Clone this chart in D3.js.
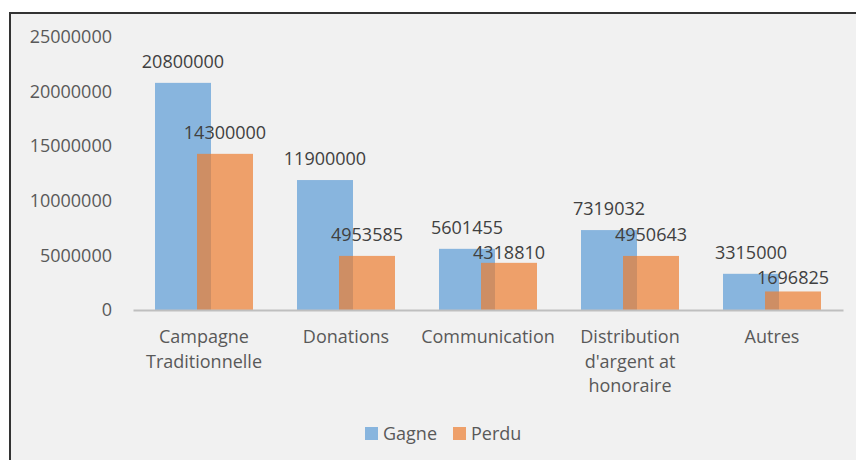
<!DOCTYPE html>
<html>
<head>
<meta charset="utf-8">
<script src="https://cdn.jsdelivr.net/npm/d3@7"></script>
<style>
  body { margin: 0; background: #fff; }
  text { font-family: "Open Sans", sans-serif; }
</style>
</head>
<body>
<div id="content"></div>
<script>
var width = 856;
var height = 460;

var categories = ['Campagne Traditionnelle',
                  'Donations',
                  'Communication',
                  "Distribution d'argent at honoraire",
                  'Autres'];
var gagne = [20800000, 11900000, 5601455, 7319032, 3315000];
var perdu = [14300000, 4953585, 4318810, 4950643, 1696825];
var yTicks = [0, 5000000, 10000000, 15000000, 20000000, 25000000];
var seriesNames = ['Gagne', 'Perdu'];
var colors = ['#5b9bd5', '#ed7d31'];

var svg = d3.select('div#content').append('svg')
    .attr('width', width)
    .attr('height', height);

// chart area with the dark frame (only top/left are visible)
svg.append('rect')
    .attr('x', 10).attr('y', 13)
    .attr('width', width + 20).attr('height', height + 20)
    .attr('fill', '#f1f1f1')
    .attr('stroke', '#333')
    .attr('stroke-width', 2);

var x = d3.scaleBand()
    .domain(categories)
    .range([133, 843]);

var y = d3.scaleLinear()
    .domain([0, 25000000])
    .range([310, 37]);

var barW = 56;
var offsets = [-49, -7];

// y axis labels
var yAxis = svg.append('g')
    .attr('transform', 'translate(112,0)')
    .call(d3.axisLeft(y).tickValues(yTicks).tickSize(0).tickPadding(0).tickFormat(d3.format('d')));
yAxis.select('.domain').remove();
yAxis.selectAll('text')
    .attr('fill', '#595959')
    .style('font-size', '18px')
    .style('font-family', '"Open Sans", sans-serif');

// bars
var series = [gagne, perdu];
series.forEach(function(vals, s){
    svg.append('g').selectAll('rect')
        .data(vals).enter()
        .append('rect')
            .attr('x', function(d, i){ return x(categories[i]) + x.bandwidth()/2 + offsets[s]; })
            .attr('y', function(d){ return y(d); })
            .attr('width', barW)
            .attr('height', function(d){ return y(0) - y(d); })
            .attr('fill', colors[s])
            .attr('fill-opacity', 0.7);
});

// x axis
var xAxis = svg.append('g')
    .attr('transform', 'translate(0,' + y(0) + ')')
    .call(d3.axisBottom(x).tickSize(0).tickFormat(''));
xAxis.select('.domain')
    .attr('stroke', '#bfbfbf')
    .attr('stroke-width', 2);
xAxis.selectAll('.tick text').remove();

// wrapped category labels
svg.append('g').selectAll('text')
    .data(categories).enter()
    .append('text')
        .attr('text-anchor', 'middle')
        .attr('fill', '#595959')
        .style('font-size', '18px')
        .each(function(d){
            var el = d3.select(this);
            var cx = x(d) + x.bandwidth()/2;
            var words = d.split(' ');
            var lines = [];
            var line = [];
            var tmp = el.append('tspan');
            words.forEach(function(w){
                line.push(w);
                tmp.text(line.join(' '));
                if (tmp.node().getComputedTextLength() > 135 && line.length > 1) {
                    line.pop();
                    lines.push(line.join(' '));
                    line = [w];
                }
            });
            lines.push(line.join(' '));
            tmp.remove();
            lines.forEach(function(l, k){
                el.append('tspan')
                    .attr('x', cx)
                    .attr('y', 343 + k * 24.5)
                    .text(l);
            });
        });

// data labels: 15px above the bar, perdu labels pushed down when too close to gagne's
function labelY(s, i){
    var base = y(series[s][i]) - 15;
    if (s === 1) {
        var other = y(gagne[i]) - 15;
        if (base - other < 25) base = Math.min(other + 25, y(series[s][i]) - 2);
    }
    return base;
}
series.forEach(function(vals, s){
    svg.append('g').selectAll('text')
        .data(vals).enter()
        .append('text')
            .attr('x', function(d, i){ return x(categories[i]) + x.bandwidth()/2 + offsets[s] + barW/2; })
            .attr('y', function(d, i){ return labelY(s, i); })
            .attr('text-anchor', 'middle')
            .attr('fill', '#404040')
            .style('font-size', '18px')
            .text(function(d){ return d; });
});

// legend
var legend = svg.append('g')
    .attr('transform', 'translate(365,427)');
seriesNames.forEach(function(name, s){
    var g = legend.append('g')
        .attr('transform', 'translate(' + (s * 88) + ',0)');
    g.append('rect')
        .attr('width', 13).attr('height', 13)
        .attr('fill', colors[s])
        .attr('fill-opacity', 0.7);
    g.append('text')
        .attr('x', 18).attr('y', 13)
        .attr('fill', '#595959')
        .style('font-size', '18px')
        .text(name);
});
</script>
</body>
</html>
